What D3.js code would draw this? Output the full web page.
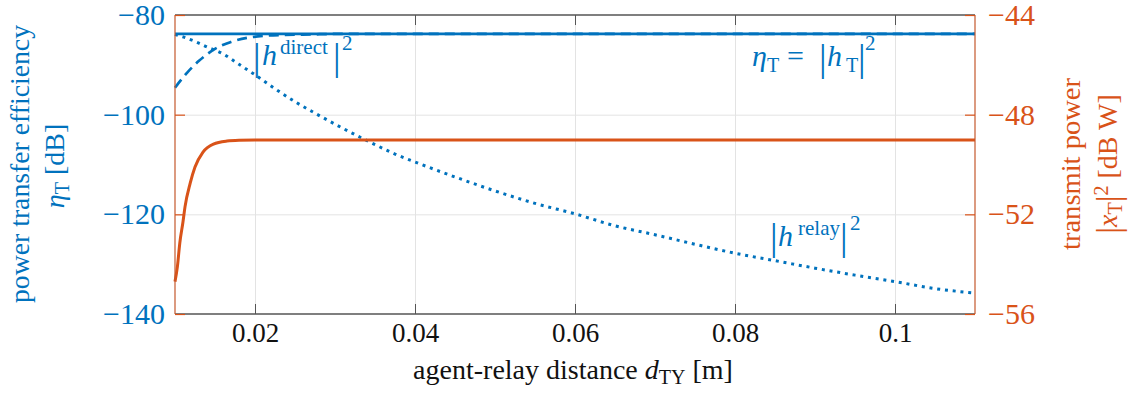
<!DOCTYPE html>
<html>
<head>
<meta charset="utf-8">
<script src="https://cdn.jsdelivr.net/npm/d3@7"></script>
<style>
  body { margin: 0; background: #fff; }
  svg { display: block; }
  text { font-family: 'Liberation Serif', 'DejaVu Serif', serif; }
</style>
</head>
<body>
<svg id="chart"></svg>
<script>
// DATA

// x axis: agent-relay distance [m]
const xDomain = [0.01, 0.11];
const xTicks = [0.02, 0.04, 0.06, 0.08, 0.1];
const xTickLabels = ['0.02', '0.04', '0.06', '0.08', '0.1'];

// left axis: power transfer efficiency [dB]
const leftDomain = [-140, -80];
const leftTicks = [-80, -100, -120, -140];

// right axis: transmit power [dBW]
const rightDomain = [-56, -44];
const rightTicks = [-44, -48, -52, -56];

// eta_T = |h_T|^2 (solid)
const totalDist = [0.010, 0.110];
const totalEff = [-83.8, -83.8];

// |h^direct|^2 (dashed)
const directDist = [0.010, 0.0115, 0.013, 0.015, 0.017, 0.019, 0.021, 0.0235, 0.027, 0.030, 0.040, 0.060, 0.080, 0.110];
const directEff = [-94.6, -91.6, -89.2, -86.8, -85.4, -84.6, -84.2, -84.0, -83.9, -83.8, -83.8, -83.8, -83.8, -83.8];

// |h^relay|^2 (dotted)
const relayDist = [0.010, 0.011, 0.0125, 0.014, 0.016, 0.018, 0.020, 0.0225, 0.025, 0.0275, 0.030, 0.0325, 0.035, 0.0375, 0.040,
                   0.045, 0.050, 0.055, 0.060, 0.065, 0.070, 0.075, 0.080, 0.085, 0.090, 0.095, 0.100, 0.105, 0.110];
const relayEff = [-83.9, -84.4, -85.3, -86.4, -87.8, -89.9, -92.0, -94.8, -97.4, -99.7, -101.9, -104.0, -106.0, -107.9, -109.5,
                  -112.5, -115.3, -117.8, -119.9, -122.3, -124.1, -126.0, -127.8, -129.3, -130.8, -132.2, -133.5, -134.9, -135.8];

// |x_T|^2 transmit power (orange, right axis)
const powerDist = [0.0100, 0.0103, 0.0106, 0.0110, 0.01125, 0.0119, 0.0125, 0.0135, 0.0148, 0.0165, 0.0180, 0.0200, 0.0400, 0.0700, 0.1100];
const powerDbw = [-54.7, -54.1, -53.15, -52.3, -51.7, -50.75, -50.1, -49.5, -49.18, -49.06, -49.03, -49.02, -49.02, -49.02, -49.02];

// LAYOUT

const width = 1134;
const height = 396;
const plotL = 175, plotR = 975, plotT = 15, plotB = 314;
const blue = '#0072bd';
const orange = '#d95319';
const spineOrange = '#c4582c';
const gridColor = '#e3e3e3';

const svg = d3.select('#chart')
    .attr('width', width)
    .attr('height', height);

const x = d3.scaleLinear().domain(xDomain).range([plotL, plotR]);
const yL = d3.scaleLinear().domain(leftDomain).range([plotB, plotT]);
const yR = d3.scaleLinear().domain(rightDomain).range([plotB, plotT]);

// GRID

svg.append('g')
    .attr('transform', `translate(0,${plotB})`)
    .call(d3.axisBottom(x).tickValues(xTicks).tickSize(-(plotB - plotT)).tickFormat(''))
    .call(g => g.select('.domain').remove())
    .call(g => g.selectAll('line').attr('stroke', gridColor).attr('stroke-width', 1));

svg.append('g')
    .attr('transform', `translate(${plotL},0)`)
    .call(d3.axisLeft(yL).tickValues([-100, -120]).tickSize(-(plotR - plotL)).tickFormat(''))
    .call(g => g.select('.domain').remove())
    .call(g => g.selectAll('line').attr('stroke', gridColor).attr('stroke-width', 1));

// CURVES

function drawLine(xs, ys, yScale, color, w, dash) {
    const pts = xs.map((d, i) => [d, ys[i]]);
    const line = d3.line()
        .x(d => x(d[0]))
        .y(d => yScale(d[1]))
        .curve(d3.curveMonotoneX);
    const p = svg.append('path')
        .datum(pts)
        .attr('d', line)
        .attr('fill', 'none')
        .attr('stroke', color)
        .attr('stroke-width', w);
    if (dash) p.attr('stroke-dasharray', dash);
    return p;
}

drawLine(relayDist, relayEff, yL, blue, 3, '3,4.8');
drawLine(totalDist, totalEff, yL, blue, 2.7);
drawLine(directDist, directEff, yL, blue, 2.7, '10,6');
drawLine(powerDist, powerDbw, yR, orange, 3);

// SPINES + TICKS

svg.append('line').attr('x1', plotL).attr('x2', plotR).attr('y1', plotT).attr('y2', plotT)
    .attr('stroke', '#000').attr('stroke-width', 1.2);
svg.append('line').attr('x1', plotL).attr('x2', plotR).attr('y1', plotB).attr('y2', plotB)
    .attr('stroke', '#000').attr('stroke-width', 1.2);
svg.append('line').attr('x1', plotL).attr('x2', plotL).attr('y1', plotT).attr('y2', plotB)
    .attr('stroke', spineOrange).attr('stroke-width', 1.2);
svg.append('line').attr('x1', plotR).attr('x2', plotR).attr('y1', plotT).attr('y2', plotB)
    .attr('stroke', spineOrange).attr('stroke-width', 1.2);

// x axis bottom with labels
svg.append('g')
    .attr('transform', `translate(0,${plotB})`)
    .call(d3.axisBottom(x).tickValues(xTicks).tickSize(-10).tickPadding(9)
        .tickFormat((d, i) => xTickLabels[i]))
    .call(g => g.select('.domain').remove())
    .call(g => g.selectAll('line').attr('stroke', '#555').attr('stroke-width', 1))
    .call(g => g.selectAll('text')
        .attr('fill', '#111')
        .style('font-family', "'Liberation Serif', serif")
        .style('font-size', '27px'));

// x axis top, ticks only
svg.append('g')
    .attr('transform', `translate(0,${plotT})`)
    .call(d3.axisTop(x).tickValues(xTicks).tickSize(-10).tickFormat(''))
    .call(g => g.select('.domain').remove())
    .call(g => g.selectAll('line').attr('stroke', '#555').attr('stroke-width', 1));

// left axis
svg.append('g')
    .attr('transform', `translate(${plotL},0)`)
    .call(d3.axisLeft(yL).tickValues(leftTicks).tickSize(-10).tickPadding(10))
    .call(g => g.select('.domain').remove())
    .call(g => g.selectAll('line').attr('stroke', orange).attr('stroke-width', 1.2))
    .call(g => g.selectAll('text')
        .attr('fill', blue)
        .style('font-family', "'Liberation Serif', serif")
        .style('font-size', '30px'));

// right axis
svg.append('g')
    .attr('transform', `translate(${plotR},0)`)
    .call(d3.axisRight(yR).tickValues(rightTicks).tickSize(-10).tickPadding(13))
    .call(g => g.select('.domain').remove())
    .call(g => g.selectAll('line').attr('stroke', orange).attr('stroke-width', 1.2))
    .call(g => g.selectAll('text')
        .attr('fill', orange)
        .style('font-family', "'Liberation Serif', serif")
        .style('font-size', '30px'));

// AXIS LABELS

const xLab = svg.append('text')
    .attr('x', 573).attr('y', 379)
    .attr('text-anchor', 'middle')
    .attr('fill', '#111')
    .style('font-size', '28px');
xLab.append('tspan').text('agent-relay distance ');
xLab.append('tspan').attr('font-style', 'italic').text('d');
xLab.append('tspan').attr('font-size', '20px').attr('dy', 5).text('TY');
xLab.append('tspan').attr('dy', -5).text(' [m]');

svg.append('text')
    .attr('transform', 'translate(29,164) rotate(-90)')
    .attr('text-anchor', 'middle')
    .attr('fill', blue)
    .style('font-size', '27px')
    .attr('textLength', 278)
    .attr('lengthAdjust', 'spacingAndGlyphs')
    .text('power transfer efficiency');

const lab2 = svg.append('text')
    .attr('transform', 'translate(64,166) rotate(-90)')
    .attr('text-anchor', 'middle')
    .attr('fill', blue)
    .style('font-size', '28px');
lab2.append('tspan').attr('font-style', 'italic').text('η');
lab2.append('tspan').attr('font-size', '20px').attr('dy', 5).text('T');
lab2.append('tspan').attr('dy', -5).text(' [dB]');

svg.append('text')
    .attr('transform', 'translate(1080,164) rotate(-90)')
    .attr('text-anchor', 'middle')
    .attr('fill', orange)
    .style('font-size', '27px')
    .attr('textLength', 172)
    .attr('lengthAdjust', 'spacingAndGlyphs')
    .text('transmit power');

const rlab2 = svg.append('text')
    .attr('transform', 'translate(1117,164) rotate(-90)')
    .attr('text-anchor', 'middle')
    .attr('fill', orange)
    .style('font-size', '28px');
rlab2.append('tspan').attr('font-size', '34px').attr('dy', 3).text('|');
rlab2.append('tspan').attr('font-style', 'italic').attr('dy', -3).text('x');
rlab2.append('tspan').attr('font-size', '20px').attr('dy', 5).text('T');
rlab2.append('tspan').attr('font-size', '34px').attr('dy', -2).text('|');
rlab2.append('tspan').attr('font-size', '20px').attr('dy', -12).text('2');
rlab2.append('tspan').attr('dy', 9).text(' [dB W]');

// CURVE LABELS

function curveLabel(parts) {
    const t = svg.append('text').attr('fill', blue);
    parts.forEach(function(p) {
        const s = t.append('tspan')
            .attr('x', p.x).attr('y', p.y)
            .attr('font-size', p.size + 'px')
            .text(p.txt);
        if (p.it) s.attr('font-style', 'italic');
    });
}

curveLabel([
    {txt: '|', x: 253, y: 70, size: 38},
    {txt: 'h', x: 262, y: 65, size: 30, it: true},
    {txt: 'direct', x: 280, y: 54, size: 21},
    {txt: '|', x: 333, y: 70, size: 38},
    {txt: '2', x: 342, y: 50, size: 21}
]);

curveLabel([
    {txt: 'η', x: 752, y: 66, size: 30, it: true},
    {txt: 'T', x: 767, y: 72, size: 20},
    {txt: '=', x: 787, y: 66, size: 30},
    {txt: '|', x: 819, y: 71, size: 38},
    {txt: 'h', x: 827, y: 66, size: 30, it: true},
    {txt: 'T', x: 846, y: 72, size: 20},
    {txt: '|', x: 858, y: 71, size: 38},
    {txt: '2', x: 865, y: 50, size: 21}
]);

curveLabel([
    {txt: '|', x: 770, y: 250, size: 38},
    {txt: 'h', x: 778, y: 246, size: 30, it: true},
    {txt: 'relay', x: 798, y: 235, size: 21},
    {txt: '|', x: 840, y: 250, size: 38},
    {txt: '2', x: 850, y: 230, size: 21}
]);
</script>
</body>
</html>
